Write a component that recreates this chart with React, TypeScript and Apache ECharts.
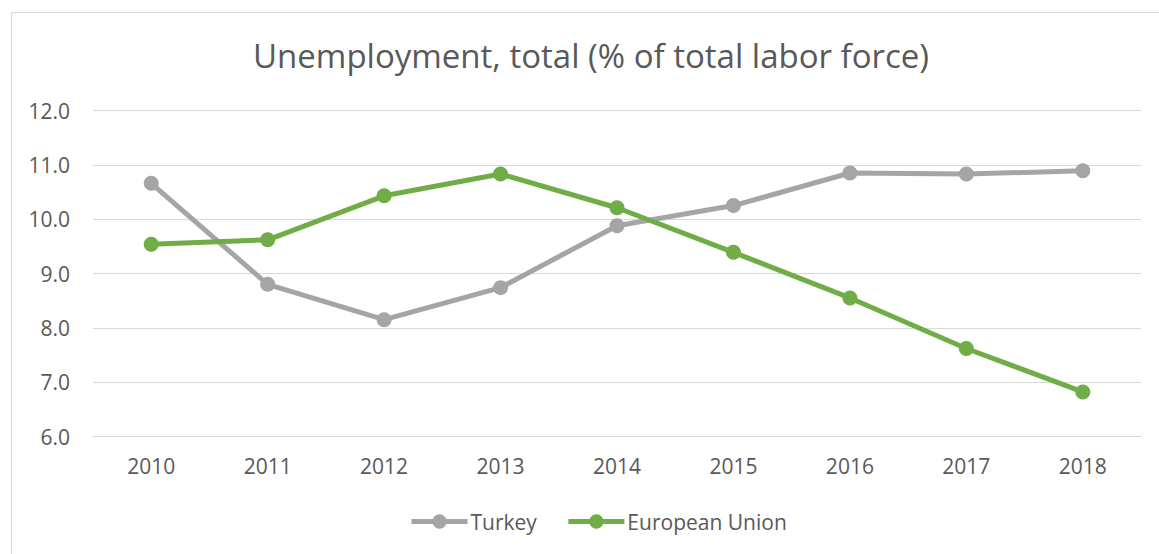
import React, { useEffect, useRef } from "react";
import * as echarts from "echarts";

const years = ["2010", "2011", "2012", "2013", "2014", "2015", "2016", "2017", "2018"];
const turkey = [10.66, 8.8, 8.15, 8.74, 9.88, 10.25, 10.85, 10.83, 10.89];
const eu = [9.54, 9.62, 10.43, 10.83, 10.21, 9.39, 8.55, 7.62, 6.82];
const yTicks = { min: 6, max: 12, interval: 1 };

const FONT = "'Open Sans', sans-serif";
const TEXT = "#595959";

export default function App() {
  const ref = useRef<HTMLDivElement>(null);
  useEffect(() => {
    if (!ref.current) return;
    const chart = echarts.init(ref.current, null, { renderer: "svg" });
    chart.setOption({
      animation: false,
      backgroundColor: "#ffffff",
      textStyle: { fontFamily: FONT },
      graphic: [
        {
          type: "rect",
          shape: { x: 11.5, y: 12.5, width: 1170, height: 570 },
          style: { fill: "none", stroke: "#d9d9d9", lineWidth: 1 },
          silent: true,
        },
      ],
      title: {
        text: "Unemployment, total (% of total labor force)",
        left: 253,
        top: 39,
        padding: 0,
        textStyle: { fontFamily: FONT, fontSize: 33, fontWeight: "normal", color: TEXT },
      },
      legend: {
        bottom: 22,
        left: 409,
        padding: 0,
        itemWidth: 56,
        itemHeight: 18,
        itemGap: 29,
        lineStyle: { width: 5 },
        textStyle: { fontFamily: FONT, fontSize: 21, color: TEXT, padding: [0, 0, 0, -2] },
        data: ["Turkey", "European Union"],
      },
      grid: { left: 93, right: 18, top: 110.5, bottom: 117.5, containLabel: false },
      xAxis: {
        type: "category",
        data: years,
        boundaryGap: true,
        axisLine: { show: true, lineStyle: { color: "#d9d9d9", width: 1 } },
        axisTick: { show: false },
        axisLabel: { fontFamily: FONT, fontSize: 21, color: TEXT, margin: 19 },
      },
      yAxis: {
        type: "value",
        min: yTicks.min,
        max: yTicks.max,
        interval: yTicks.interval,
        axisLine: { show: false },
        axisTick: { show: false },
        splitLine: { lineStyle: { color: "#d9d9d9", width: 1 } },
        axisLabel: {
          fontFamily: FONT,
          fontSize: 21,
          color: TEXT,
          margin: 23,
          formatter: (v: number) => v.toFixed(1),
        },
      },
      series: [
        {
          name: "Turkey",
          type: "line",
          data: turkey,
          symbol: "circle",
          symbolSize: 15,
          lineStyle: { color: "#a5a5a5", width: 5 },
          itemStyle: { color: "#a5a5a5" },
          z: 2,
        },
        {
          name: "European Union",
          type: "line",
          data: eu,
          symbol: "circle",
          symbolSize: 15,
          lineStyle: { color: "#70ad47", width: 5 },
          itemStyle: { color: "#70ad47" },
          z: 3,
        },
      ],
    });
    return () => chart.dispose();
  }, []);
  return (
    <div
      ref={ref}
      style={{ position: "absolute", left: 0, top: 0, width: 1159, height: 554 }}
    />
  );
}
